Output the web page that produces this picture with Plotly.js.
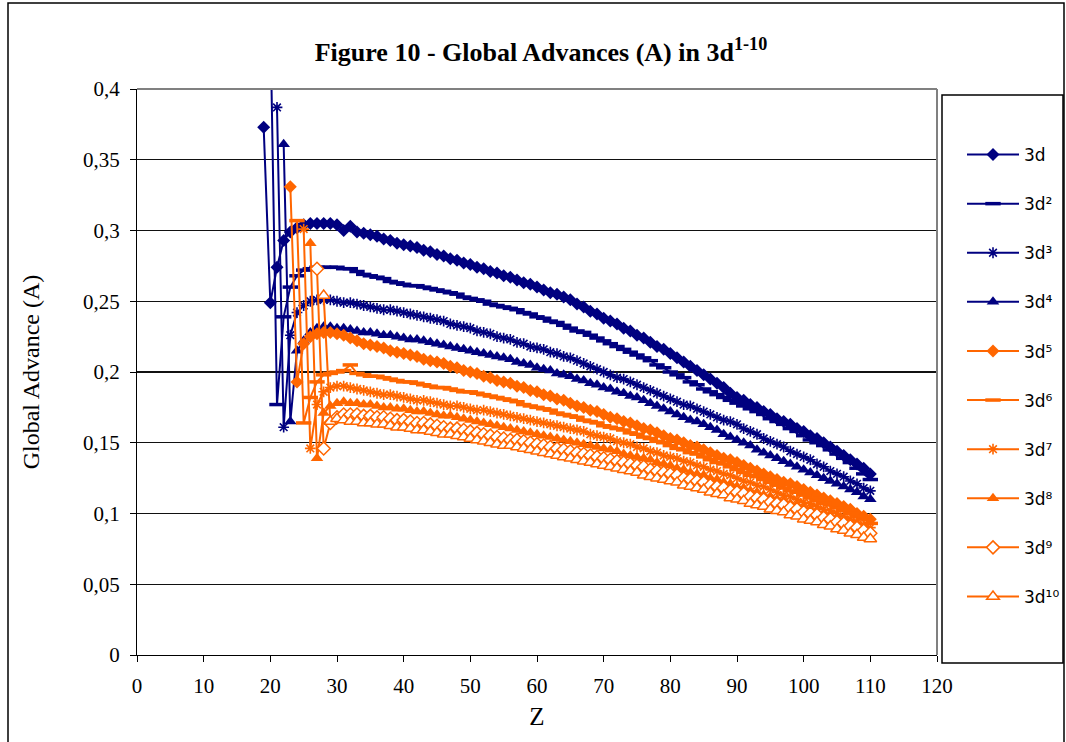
<!DOCTYPE html>
<html>
<head>
<meta charset="utf-8">
<script src="https://cdn.plot.ly/plotly-3.0.1.min.js"></script>
<style>
  html, body { margin: 0; padding: 0; background: #fff; }
  #chart { width: 1066px; height: 742px; }
</style>
</head>
<body>
<div id="chart"></div>
<script>
// Global advance A along the 3d^n isoelectronic rows, Z from first element to 110
const zEnd = 110;
const seriesNames = ['3d', '3d²', '3d³', '3d⁴', '3d⁵', '3d⁶', '3d⁷', '3d⁸', '3d⁹', '3d¹⁰'];
const zStart = [19, 20, 21, 22, 23, 24, 25, 26, 27, 28];

const adv3d1 = [
  0.373,0.249,0.274,0.293,0.299,0.302,0.304,0.305,0.305,0.305,
  0.305,0.304,0.300,0.303,0.299,0.298,0.297,0.296,0.294,0.293,
  0.291,0.290,0.289,0.288,0.286,0.285,0.283,0.282,0.280,0.279,
  0.277,0.276,0.274,0.273,0.271,0.270,0.268,0.267,0.265,0.263,
  0.262,0.260,0.258,0.256,0.255,0.253,0.251,0.248,0.246,0.243,
  0.241,0.238,0.236,0.234,0.231,0.229,0.226,0.224,0.221,0.218,
  0.216,0.213,0.210,0.207,0.204,0.201,0.198,0.195,0.192,0.189,
  0.185,0.182,0.180,0.177,0.175,0.172,0.170,0.167,0.165,0.163,
  0.160,0.158,0.155,0.153,0.150,0.147,0.144,0.141,0.138,0.135,
  0.132,0.128
];
const adv3d2 = [
  0.450,0.177,0.239,0.260,0.268,0.272,0.273,0.274,0.274,0.274,
  0.274,0.273,0.273,0.271,0.269,0.268,0.267,0.266,0.264,0.263,
  0.262,0.261,0.261,0.260,0.259,0.258,0.257,0.256,0.255,0.253,
  0.252,0.251,0.250,0.248,0.247,0.246,0.245,0.244,0.242,0.241,
  0.239,0.238,0.236,0.235,0.233,0.231,0.229,0.228,0.226,0.224,
  0.222,0.220,0.218,0.216,0.214,0.212,0.210,0.208,0.205,0.203,
  0.200,0.198,0.196,0.193,0.191,0.188,0.186,0.184,0.182,0.180,
  0.178,0.176,0.174,0.172,0.170,0.167,0.165,0.163,0.160,0.158,
  0.155,0.152,0.150,0.148,0.145,0.142,0.139,0.136,0.132,0.128,
  0.124
];
const adv3d3 = [
  0.387,0.161,0.226,0.242,0.247,0.250,0.251,0.251,0.251,0.250,
  0.249,0.249,0.248,0.247,0.246,0.245,0.244,0.244,0.243,0.242,
  0.241,0.240,0.239,0.238,0.237,0.236,0.234,0.233,0.232,0.231,
  0.229,0.228,0.227,0.225,0.224,0.223,0.221,0.220,0.218,0.217,
  0.216,0.214,0.213,0.211,0.210,0.208,0.206,0.204,0.202,0.200,
  0.198,0.196,0.195,0.193,0.191,0.189,0.187,0.185,0.183,0.181,
  0.179,0.177,0.176,0.174,0.172,0.170,0.168,0.166,0.165,0.163,
  0.160,0.158,0.156,0.153,0.151,0.149,0.147,0.144,0.142,0.140,
  0.138,0.135,0.133,0.130,0.128,0.126,0.123,0.121,0.118,0.116
];
const adv3d4 = [
  0.361,0.165,0.215,0.222,0.228,0.231,0.232,0.232,0.231,0.231,
  0.230,0.229,0.228,0.228,0.227,0.226,0.226,0.225,0.224,0.223,
  0.223,0.222,0.221,0.220,0.219,0.218,0.217,0.216,0.215,0.214,
  0.213,0.212,0.211,0.210,0.209,0.207,0.206,0.205,0.203,0.202,
  0.201,0.199,0.198,0.197,0.195,0.194,0.192,0.191,0.189,0.188,
  0.186,0.185,0.183,0.182,0.180,0.178,0.176,0.174,0.172,0.170,
  0.168,0.166,0.165,0.163,0.161,0.159,0.156,0.154,0.152,0.150,
  0.148,0.145,0.143,0.141,0.139,0.137,0.135,0.133,0.131,0.129,
  0.127,0.125,0.123,0.121,0.119,0.117,0.115,0.112,0.110
];
const adv3d5 = [
  0.331,0.193,0.220,0.225,0.227,0.228,0.228,0.227,0.226,0.224,
  0.222,0.220,0.219,0.218,0.217,0.215,0.214,0.213,0.212,0.211,
  0.209,0.208,0.207,0.206,0.204,0.203,0.201,0.200,0.199,0.197,
  0.196,0.194,0.193,0.192,0.190,0.189,0.187,0.186,0.184,0.183,
  0.181,0.180,0.178,0.176,0.175,0.173,0.172,0.170,0.168,0.167,
  0.165,0.164,0.162,0.160,0.159,0.157,0.155,0.153,0.152,0.150,
  0.148,0.147,0.145,0.143,0.141,0.139,0.138,0.136,0.134,0.132,
  0.130,0.128,0.126,0.124,0.122,0.121,0.119,0.117,0.115,0.113,
  0.111,0.109,0.107,0.105,0.103,0.100,0.098,0.096
];
const adv3d6 = [
  0.307,0.164,0.182,0.193,0.198,0.199,0.200,0.201,0.205,0.199,
  0.198,0.197,0.197,0.196,0.195,0.194,0.193,0.193,0.192,0.191,
  0.190,0.189,0.189,0.188,0.187,0.186,0.186,0.185,0.184,0.183,
  0.182,0.181,0.180,0.179,0.177,0.176,0.175,0.174,0.173,0.171,
  0.170,0.169,0.168,0.166,0.165,0.164,0.162,0.161,0.160,0.159,
  0.157,0.156,0.154,0.153,0.151,0.150,0.148,0.146,0.145,0.143,
  0.142,0.140,0.138,0.136,0.135,0.133,0.131,0.129,0.127,0.126,
  0.124,0.122,0.120,0.118,0.116,0.115,0.113,0.111,0.109,0.107,
  0.106,0.104,0.102,0.100,0.098,0.096,0.093
];
const adv3d7 = [
  0.301,0.146,0.177,0.186,0.189,0.190,0.190,0.189,0.188,0.187,
  0.186,0.185,0.184,0.184,0.183,0.182,0.181,0.180,0.180,0.179,
  0.178,0.177,0.176,0.176,0.175,0.174,0.173,0.173,0.172,0.171,
  0.170,0.169,0.168,0.167,0.166,0.165,0.164,0.163,0.162,0.161,
  0.160,0.159,0.158,0.156,0.155,0.154,0.153,0.151,0.150,0.149,
  0.147,0.146,0.144,0.143,0.141,0.140,0.139,0.137,0.136,0.134,
  0.133,0.131,0.130,0.128,0.127,0.125,0.123,0.122,0.120,0.119,
  0.117,0.115,0.113,0.112,0.110,0.108,0.107,0.105,0.103,0.102,
  0.100,0.098,0.096,0.094,0.092,0.090
];
const adv3d8 = [
  0.291,0.139,0.171,0.176,0.178,0.179,0.178,0.178,0.177,0.177,
  0.176,0.175,0.175,0.174,0.174,0.173,0.172,0.172,0.171,0.170,
  0.169,0.169,0.168,0.167,0.166,0.165,0.164,0.163,0.162,0.161,
  0.160,0.159,0.158,0.157,0.156,0.155,0.154,0.153,0.152,0.151,
  0.150,0.149,0.148,0.147,0.146,0.145,0.144,0.142,0.141,0.140,
  0.139,0.138,0.136,0.135,0.134,0.132,0.131,0.129,0.128,0.127,
  0.125,0.124,0.122,0.121,0.119,0.118,0.116,0.115,0.113,0.112,
  0.110,0.109,0.107,0.106,0.104,0.103,0.101,0.100,0.098,0.097,
  0.095,0.093,0.092,0.090,0.088
];
const adv3d9 = [
  0.273,0.146,0.164,0.168,0.170,0.170,0.170,0.169,0.169,0.168,
  0.168,0.167,0.166,0.166,0.165,0.164,0.164,0.163,0.162,0.161,
  0.160,0.160,0.159,0.158,0.157,0.156,0.155,0.154,0.153,0.152,
  0.152,0.151,0.150,0.149,0.148,0.147,0.146,0.145,0.144,0.143,
  0.142,0.141,0.140,0.139,0.138,0.137,0.136,0.135,0.134,0.133,
  0.131,0.130,0.129,0.128,0.127,0.125,0.124,0.123,0.122,0.120,
  0.119,0.118,0.116,0.115,0.114,0.112,0.111,0.110,0.108,0.107,
  0.106,0.104,0.103,0.101,0.100,0.099,0.097,0.096,0.094,0.093,
  0.091,0.090,0.088,0.086
];
const adv3d10 = [
  0.254,0.165,0.167,0.166,0.165,0.165,0.164,0.164,0.163,0.163,
  0.162,0.161,0.161,0.160,0.159,0.159,0.158,0.157,0.156,0.156,
  0.155,0.154,0.153,0.152,0.151,0.150,0.149,0.148,0.148,0.147,
  0.146,0.145,0.144,0.143,0.142,0.141,0.140,0.139,0.138,0.137,
  0.136,0.135,0.134,0.133,0.132,0.131,0.130,0.129,0.127,0.126,
  0.125,0.124,0.123,0.122,0.120,0.119,0.118,0.117,0.115,0.114,
  0.113,0.111,0.110,0.109,0.107,0.106,0.105,0.103,0.102,0.101,
  0.099,0.098,0.096,0.095,0.094,0.092,0.091,0.089,0.088,0.086,
  0.085,0.083,0.082
];

const seriesValues = [adv3d1, adv3d2, adv3d3, adv3d4, adv3d5, adv3d6, adv3d7, adv3d8, adv3d9, adv3d10];

// Styling per series: four navy rows, six orange rows
const NAVY = '#000080';
const ORANGE = '#FF6600';
const markerStyles = [
  { color: NAVY,   symbol: 'diamond',       size: 10, fill: NAVY,   lw: 0 },
  { color: NAVY,   symbol: 'line-ew',       size: 11, fill: NAVY,   lw: 3.5 },
  { color: NAVY,   symbol: 'asterisk-open', size: 9,  fill: NAVY,   lw: 1.6 },
  { color: NAVY,   symbol: 'triangle-up',   size: 11, fill: NAVY,   lw: 0 },
  { color: ORANGE, symbol: 'diamond',       size: 10, fill: ORANGE, lw: 0 },
  { color: ORANGE, symbol: 'line-ew',       size: 11, fill: ORANGE, lw: 3.5 },
  { color: ORANGE, symbol: 'asterisk-open', size: 9,  fill: ORANGE, lw: 1.6 },
  { color: ORANGE, symbol: 'triangle-up',   size: 11, fill: ORANGE, lw: 0 },
  { color: ORANGE, symbol: 'diamond',       size: 10, fill: '#FFFFFF', lw: 1.5 },
  { color: ORANGE, symbol: 'triangle-up',   size: 11, fill: '#FFFFFF', lw: 1.5 }
];

const traces = seriesValues.map((vals, i) => {
  const z = vals.map((_, k) => zStart[i] + k);
  const st = markerStyles[i];
  return {
    type: 'scatter',
    mode: 'lines+markers',
    name: seriesNames[i],
    legendgroup: 'g' + i,
    x: z,
    y: vals,
    line: { color: st.color, width: 2 },
    marker: {
      symbol: st.symbol,
      size: st.size,
      color: st.fill,
      line: { color: st.color, width: st.lw }
    },
    cliponaxis: true
  };
});

// pixel helpers for frame shapes (plot area spans 137..937 x 89..655)
const L = 137, R = 129, T = 89, B = 87, W = 1066, H = 742;
const pw = W - L - R, ph = H - T - B;
const px = v => (v - L) / pw;
const py = v => (H - B - v) / ph;

const serif = 'Liberation Serif, Times New Roman, serif';

const layout = {
  width: W,
  height: H,
  margin: { l: L, r: R, t: T, b: B, pad: 0, autoexpand: false },
  paper_bgcolor: '#FFFFFF',
  plot_bgcolor: '#FFFFFF',
  separators: ', ',
  font: { family: serif, size: 22, color: '#000' },
  title: {
    text: '<b>Figure 10 - Global Advances (A) in 3d<sup>1-10</sup></b>',
    font: { family: serif, size: 26, color: '#000' },
    xref: 'paper', x: 0.505, xanchor: 'center',
    y: 1 - 52 / H, yanchor: 'middle'
  },
  xaxis: {
    range: [0, 120],
    dtick: 10,
    tick0: 0,
    ticks: 'outside',
    ticklen: 6,
    tickwidth: 1,
    tickcolor: '#000',
    ticklabelstandoff: 6,
    showline: true,
    linecolor: '#000',
    linewidth: 1,
    showgrid: false,
    zeroline: false,
    tickfont: { family: serif, size: 21, color: '#000' },
    title: { text: 'Z', font: { family: serif, size: 25, color: '#000' }, standoff: 10 },
    fixedrange: true
  },
  yaxis: {
    range: [0, 0.4],
    dtick: 0.05,
    tick0: 0,
    ticks: 'outside',
    ticklen: 6,
    tickwidth: 1,
    tickcolor: '#000',
    ticklabelstandoff: 6,
    showline: true,
    linecolor: '#000',
    linewidth: 1,
    showgrid: true,
    gridcolor: '#111',
    gridwidth: 1.4,
    zeroline: false,
    tickfont: { family: serif, size: 21, color: '#000' },
    title: { text: 'Global Advance (A)', font: { family: serif, size: 24, color: '#000' }, standoff: 36 },
    fixedrange: true
  },
  showlegend: true,
  legend: {
    x: px(962), xanchor: 'left',
    y: py(137), yanchor: 'top',
    bgcolor: 'rgba(0,0,0,0)',
    borderwidth: 0,
    font: { family: 'DejaVu Sans, Verdana, sans-serif', size: 17, color: '#000' },
    itemwidth: 52,
    tracegroupgap: 24,
    traceorder: 'grouped'
  },
  shapes: [
    // plot-area frame on top and right
    { type: 'line', xref: 'paper', yref: 'paper', x0: 0, x1: 1, y0: 1, y1: 1, line: { color: '#808080', width: 2 } },
    { type: 'line', xref: 'paper', yref: 'paper', x0: 1, x1: 1, y0: 0, y1: 1, line: { color: '#808080', width: 2 } },
    // legend box
    { type: 'rect', xref: 'paper', yref: 'paper', x0: px(942), x1: px(1063), y0: py(663), y1: py(95), line: { color: '#000', width: 1.5 }, fillcolor: 'rgba(0,0,0,0)' },
    // outer chart border
    { type: 'rect', xref: 'paper', yref: 'paper', x0: px(8), x1: px(1064), y0: py(745), y1: py(3), line: { color: '#000', width: 1.5 }, fillcolor: 'rgba(0,0,0,0)' }
  ]
};

Plotly.newPlot('chart', traces, layout, { displayModeBar: false, staticPlot: true });
</script>
</body>
</html>
